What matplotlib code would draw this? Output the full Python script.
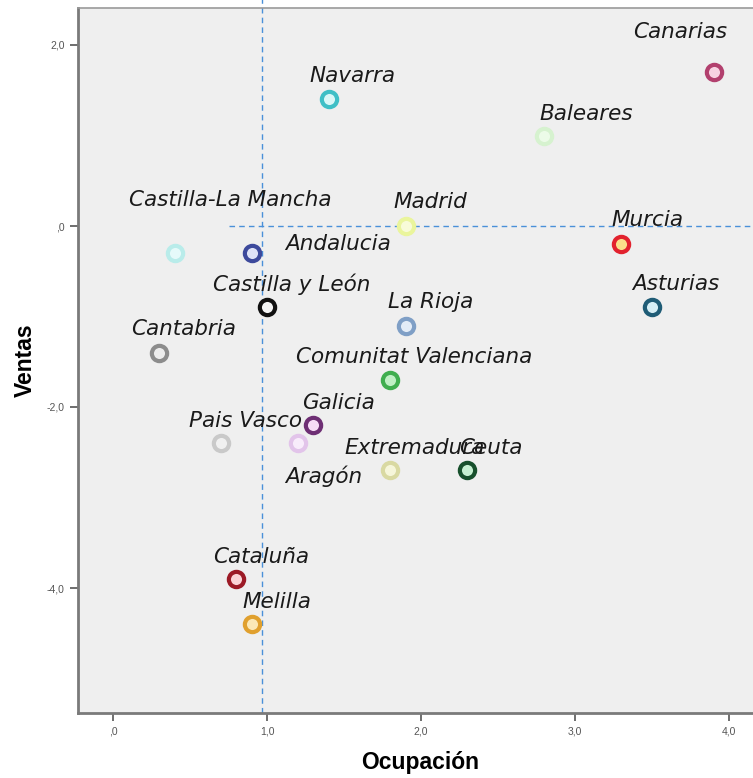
import matplotlib
matplotlib.use("Agg")
import matplotlib.pyplot as plt

# data
regions = ["Canarias", "Navarra", "Baleares", "Madrid", "Murcia", "Asturias",
           "Castilla-La Mancha", "Andalucia", "Castilla y León", "La Rioja",
           "Cantabria", "Comunitat Valenciana", "Galicia", "Pais Vasco",
           "Aragón", "Extremadura", "Ceuta", "Cataluña", "Melilla"]
ocupacion = [3.9, 1.4, 2.8, 1.9, 3.3, 3.5, 0.4, 0.9, 1.0, 1.9,
             0.3, 1.8, 1.3, 0.7, 1.2, 1.8, 2.3, 0.8, 0.9]
ventas = [1.7, 1.4, 1.0, 0.0, -0.2, -0.9, -0.3, -0.3, -0.9, -1.1,
          -1.4, -1.7, -2.2, -2.4, -2.4, -2.7, -2.7, -3.9, -4.4]
edge_colors = ["#b2406e", "#3fbfc6", "#d6f2cf", "#eaf59c", "#e2222e", "#1f5c76",
               "#b9ecea", "#3d4a9c", "#111111", "#7f9fc6",
               "#8c8c8c", "#3fae4e", "#6e2f74", "#c9c9c9",
               "#e2c4ea", "#d9d9a2", "#17502c", "#9c1a26", "#e0a02e"]
face_colors = ["#f7d3e2", "#d9f7f7", "#ecfbe8", "#f8fbd8", "#fbe08a", "#d6eef5",
               "#e6fafa", "#dfe3f7", "#f4f4f4", "#e3ecf7",
               "#ececec", "#bff0c4", "#f7dcf7", "#f0f0f0",
               "#f8ecfb", "#f6f6da", "#c6f0d2", "#fbd3d6", "#fbe8b6"]
# label offsets in pixels (dx, dy)
label_dx = [-33, 24, 42, 25, 26, 24, 56, 86, 25, 25, 24, 24, 25, 25, 26, 24, 24, 25, 25]
label_dy = [40, 23, 21, 24, 24, 23, 53, 9, 23, 24, 24, 23, 22, 22, -33, 22, 22, 22, 22]

fig = plt.figure(figsize=(7.53, 7.78), dpi=100)
ax = fig.add_axes([78 / 753, 1 - 713 / 778, 1 - 78 / 753, (713 - 8) / 778])
ax.set_facecolor("#efefef")

x0, px_x = 113, 154.0
y0, px_y = 226, 90.5
ax.set_xlim((78 - x0) / px_x, (753 - x0) / px_x)
ax.set_ylim((y0 - 713) / px_y, (y0 - 8) / px_y)

ax.axvline(0.97, ymin=0, ymax=1.02, color="#4a90d9", lw=1, ls=(0, (4, 3)), clip_on=False)
ax.plot([0.75, 4.2], [0, 0], color="#4a90d9", lw=1, ls=(0, (4, 3)))

for i, name in enumerate(regions):
    ax.plot(ocupacion[i], ventas[i], marker="o", ms=11, mew=3,
            mec=edge_colors[i], mfc=face_colors[i], ls="none", zorder=3)
    ax.annotate(name, (ocupacion[i], ventas[i]), xytext=(label_dx[i], label_dy[i]),
                textcoords="offset pixels", ha="center", va="center",
                fontsize=15.5, style="italic", family="DejaVu Sans",
                color="#1a1a1a", zorder=4)

ax.set_xticks([0, 1, 2, 3, 4])
ax.set_xticklabels([",0", "1,0", "2,0", "3,0", "4,0"])
ax.set_yticks([2, 0, -2, -4])
ax.set_yticklabels(["2,0", ",0", "-2,0", "-4,0"])
ax.tick_params(labelsize=7.5, colors="#555555", length=6, width=1.2)
for lab in ax.get_xticklabels() + ax.get_yticklabels():
    lab.set_family("Liberation Sans")

for side in ["left", "bottom"]:
    ax.spines[side].set_color("#7a7a7a")
    ax.spines[side].set_linewidth(2)
ax.spines["top"].set_color("#9a9a9a")
ax.spines["top"].set_linewidth(1.2)
ax.spines["right"].set_visible(False)

ax.set_xlabel("Ocupación", fontsize=16.5, fontweight="bold", family="Liberation Sans",
              va="center")
ax.xaxis.set_label_coords((420 - 78) / 675, -(762 - 713) / 705)
ax.set_ylabel("Ventas", fontsize=16.5, fontweight="bold", family="Liberation Sans",
              va="center")
ax.yaxis.set_label_coords(-(78 - 25) / 675, (713 - 360) / 705)

fig.savefig("out.png", dpi=100)
